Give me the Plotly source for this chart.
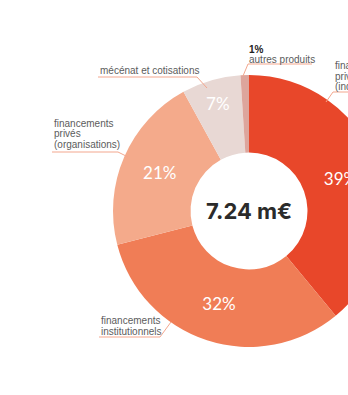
import plotly.graph_objects as go

# ---- data ----
categories = ["financements privés (individus)", "financements institutionnels",
              "financements privés (organisations)", "mécénat et cotisations",
              "autres produits"]
shares = [39, 32, 21, 7, 1]
pct_labels = ["39%", "32%", "21%", "7%", ""]
colors = ["#E8472A", "#F07D56", "#F4AA8B", "#E8D8D4", "#DDA59C"]
total_label = "7.24 m€"

W, H = 400, 395
def px(x, y):
    return x / W, 1 - y / H

# donut geometry in pixels
cx, cy, R = 249, 211, 136
x0, ytop = px(cx - R, cy - R)
x1, ybot = px(cx + R, cy + R)

fig = go.Figure(go.Pie(
    labels=categories, values=shares, text=pct_labels,
    textinfo="text", textposition="inside", insidetextorientation="horizontal",
    hole=0.43, sort=False, direction="clockwise", rotation=0,
    marker=dict(colors=colors, line=dict(width=0)),
    textfont=dict(family="Lato", size=17, color="white"),
    domain=dict(x=[x0, x1], y=[ybot, ytop]),
    showlegend=False, hoverinfo="label+percent",
))

line_col = "#F3A78E"
gray = "#5c5c5c"
annotations = []
shapes = []

def add_line(points):
    path = "M " + " L ".join(f"{px(a, b)[0]},{px(a, b)[1]}" for a, b in points)
    shapes.append(dict(type="path", path=path, xref="paper", yref="paper",
                       line=dict(color=line_col, width=1)))

def add_text(x, y, t, size=10, color=gray, bold=False):
    xx, yy = px(x, y)
    annotations.append(dict(x=xx, y=yy, xref="paper", yref="paper", text=f"<b>{t}</b>" if bold else t,
                            showarrow=False, xanchor="left", yanchor="middle",
                            font=dict(family="Liberation Sans", size=size, color=color)))

# mécénat
add_text(98, 70, "mécénat et cotisations")
add_line([(98, 77), (197, 77), (207, 88)])
# privés organisations
add_text(52, 123, "financements")
add_text(52, 133.5, "privés")
add_text(52, 144.5, "(organisations)")
add_line([(52, 152), (118, 152), (128, 157)])
# institutionnels
add_text(99, 320.5, "financements")
add_text(99, 331, "institutionnels")
add_line([(99, 337), (160, 337), (171, 322)])
# autres produits
add_text(247, 49, "1%", color="#222222", bold=True)
add_text(247, 59, "autres produits")
add_line([(243, 76), (248, 64), (312, 64)])
# privés individus
add_text(333, 65.5, "financements")
add_text(333, 76, "privés")
add_text(333, 86.5, "(individus)")
add_line([(326, 102), (333, 92), (400, 92)])

# centre total
annotations.append(dict(x=px(cx, cy)[0], y=px(cx, cy)[1], xref="paper", yref="paper",
                        text=f"<b>{total_label}</b>", showarrow=False,
                        font=dict(family="Inter", size=22, color="#2b2b2b")))

fig.update_layout(width=W, height=H, margin=dict(l=0, r=0, t=0, b=0),
                  paper_bgcolor="white", plot_bgcolor="white",
                  annotations=annotations, shapes=shapes)

fig.write_html("out.html", post_script=(
    "document.body.style.margin='0';document.body.style.overflow='hidden';"
    "document.documentElement.style.overflow='hidden';"))
